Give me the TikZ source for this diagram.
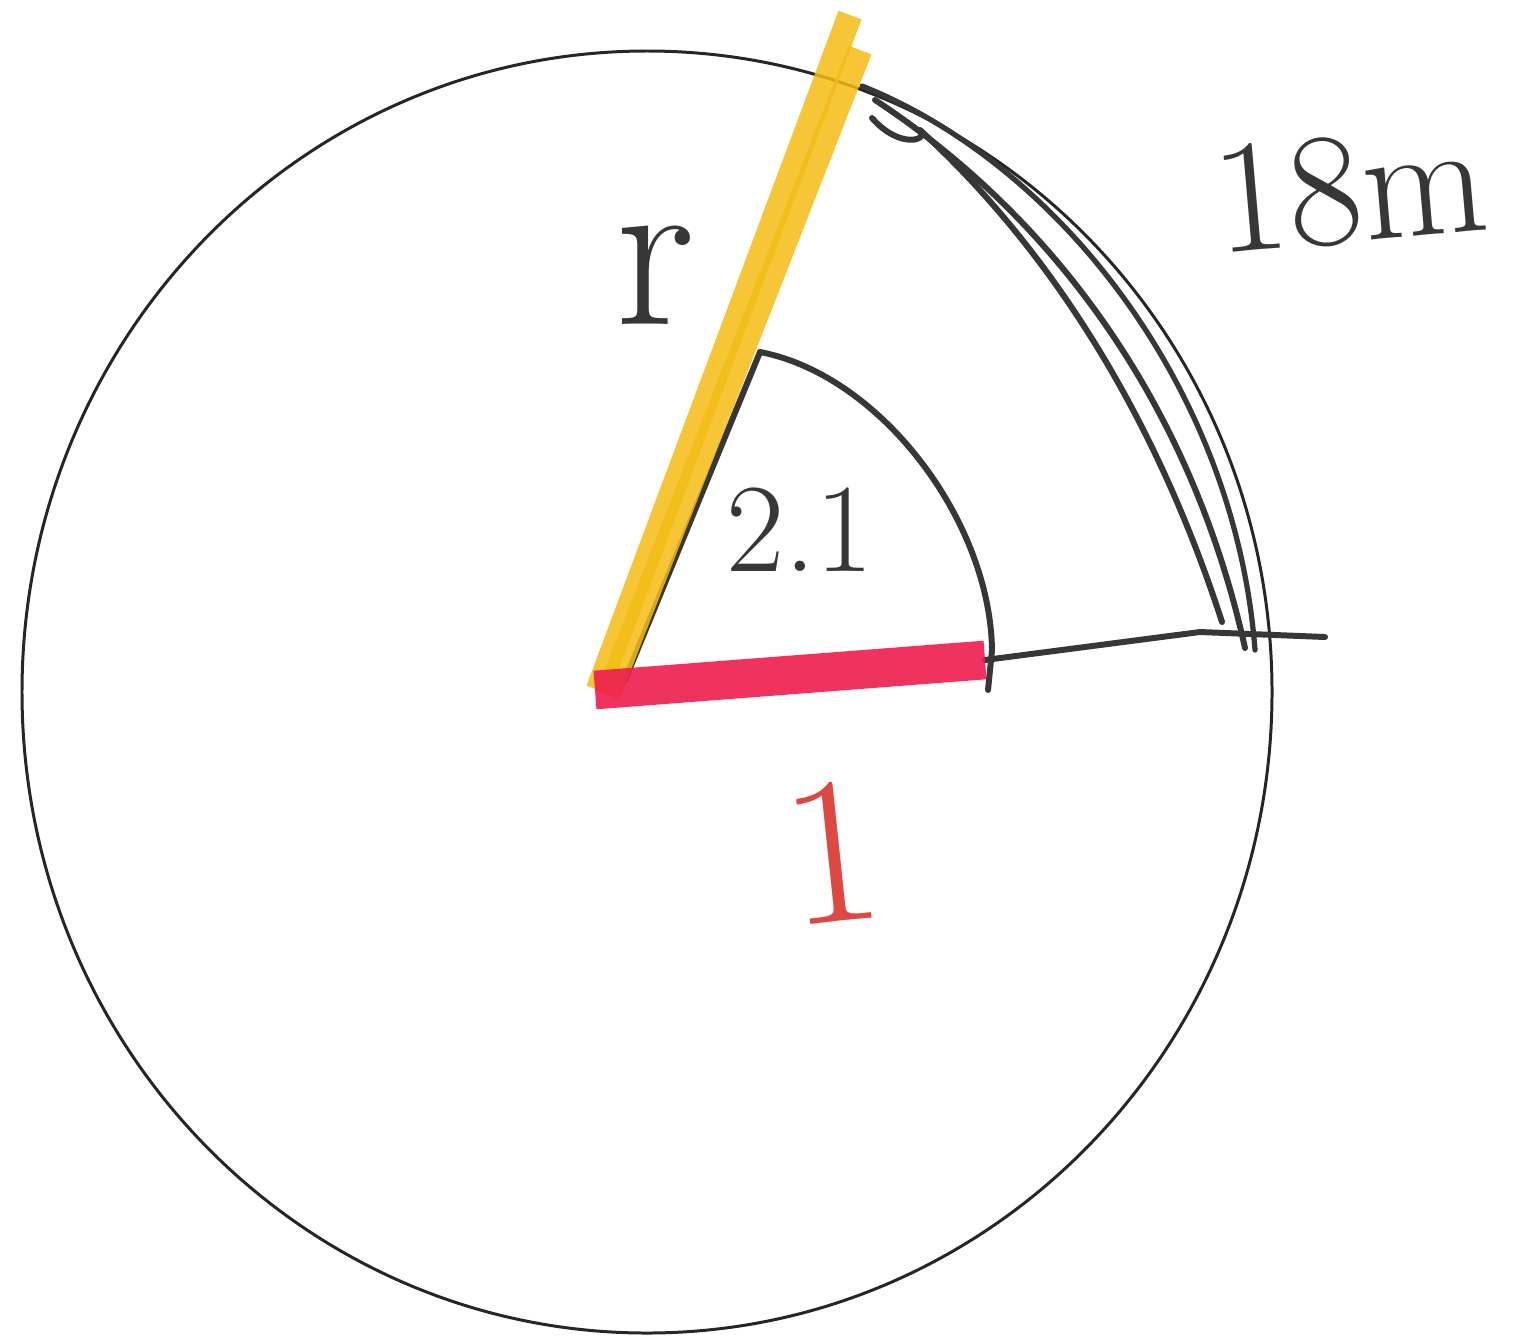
\documentclass[tikz,border=0pt]{standalone}
\usepackage{xcolor}
\usepackage{tikz}
\usetikzlibrary{calc}
\definecolor{ink}{RGB}{55,55,55}
\definecolor{marker}{RGB}{244,188,20}
\definecolor{hilite}{RGB}{238,28,78}
\definecolor{pen}{RGB}{222,72,66}
\tikzset{
  rim/.style={draw=black!85,line width=0.85pt},
  sk/.style={draw=ink,line width=1.7pt,line cap=round,line join=round},
  ymark/.style={draw=marker,line width=7pt,line cap=butt,opacity=0.85},
  rmark/.style={draw=hilite,line width=11pt,line cap=butt,opacity=0.9},
  hand/.style={text=ink,inner sep=0pt},
}
\begin{document}
\begin{tikzpicture}[x=0.1mm,y=0.1mm]
  \useasboundingbox (0,-1341) rectangle (1518,0);
  \coordinate (C)  at (647,-692);
  \coordinate (O)  at (598,-690);
  \coordinate (Y1) at (850,-15);
  \coordinate (Y2) at (860,-50);
  \coordinate (R)  at (985,-660);
  \coordinate (E)  at (1325,-637);
  \coordinate (S)  at (760,-352);

  \draw[rim] (C) circle[x radius=625,y radius=641];

  % sector of radius 1
  \draw[sk] (625,-680) -- (S);
  \draw[sk] (S) .. controls (880,-375) and (990,-520) .. (992,-650)
            -- (988,-690);
  \draw[sk] (R) -- (1200,-632) -- (E);

  % arc marked 18m
  \draw[sk,line width=1.5pt] (862,-86) .. controls (1060,-165) and (1235,-390) .. (1255,-650);
  \draw[sk] (875,-100) .. controls (1050,-215) and (1190,-400) .. (1245,-648);
  \draw[sk] (872,-118) .. controls (900,-150) and (930,-140) .. (920,-130)
            .. controls (1040,-240) and (1150,-400) .. (1222,-622);

  % marker strokes
  \draw[ymark] (O) -- (Y1);
  \draw[ymark] ($(O)+(10,-5)$) -- (Y2);
  \draw[rmark] (595,-690) -- (R);

  \node[hand,font=\fontsize{64}{64}\selectfont] (lr) at (655,-275) {r};
  \node[hand,font=\fontsize{36}{38}\selectfont] (lang) at (800,-530) {2.1};
  \node[hand,font=\fontsize{46}{46}\selectfont,rotate=5]
       (larc) at (1350,-190) {18m};
  \node[hand,text=pen,font=\fontsize{60}{60}\selectfont,rotate=6]
       (lone) at (832,-852) {1};
\end{tikzpicture}
\end{document}
